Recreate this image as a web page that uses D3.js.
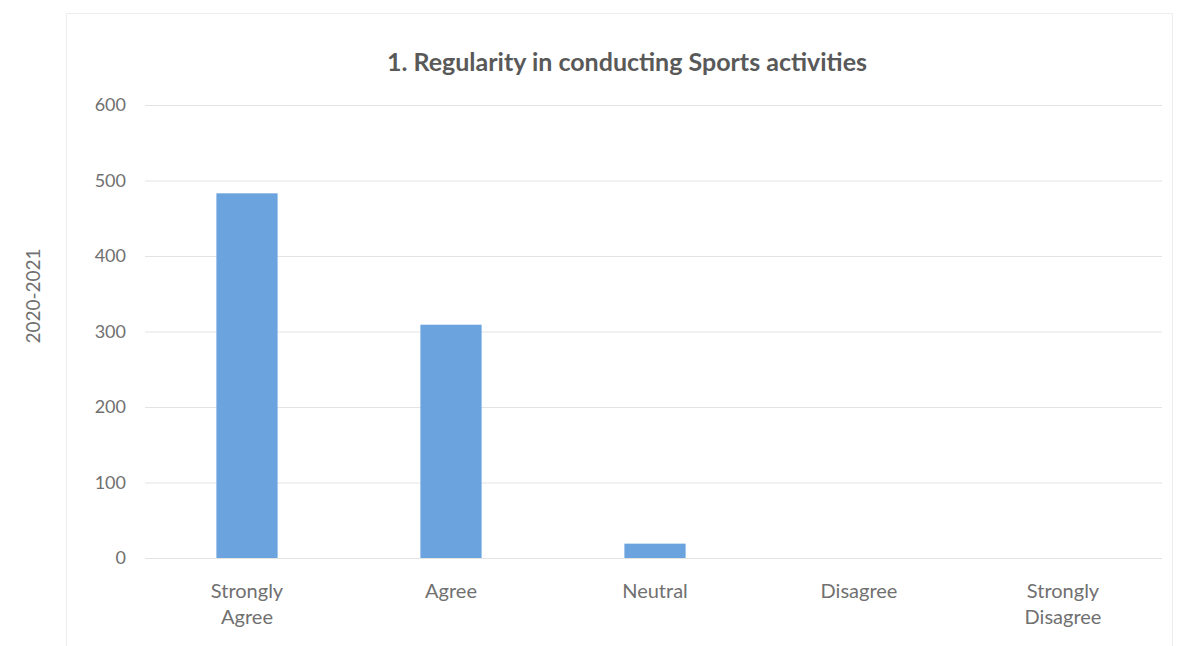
<!DOCTYPE html>
<html>
<head>
<meta charset="utf-8">
<script src="https://cdn.jsdelivr.net/npm/d3@7"></script>
<style>
  html, body { margin: 0; padding: 0; background: #fff; }
  svg { display: block; }
  text { font-family: Lato, "Open Sans", "Liberation Sans", sans-serif; }
</style>
</head>
<body>
<svg id="chart" width="1181" height="646"></svg>
<script>
const categories = [["Strongly", "Agree"], ["Agree"], ["Neutral"], ["Disagree"], ["Strongly", "Disagree"]];
const values = [483, 309, 19, 0, 0];
const yTicks = [0, 100, 200, 300, 400, 500, 600];
const title = "1. Regularity in conducting Sports activities";
const yLabel = "2020-2021";

const svg = d3.select("#chart");
const W = 1181, H = 646;
const margin = { left: 145, right: 16, top: 105, bottom: 88 };

svg.append("rect").attr("width", W).attr("height", H).attr("fill", "#fff");
// chart frame
svg.append("rect")
  .attr("x", 66.5).attr("y", 13.5).attr("width", 1106).attr("height", 660)
  .attr("fill", "none").attr("stroke", "#ededed").attr("stroke-width", 1);

const x = d3.scaleBand()
  .domain(categories.map((d, i) => i))
  .range([margin.left, 1165])
  .paddingInner(0.7)
  .paddingOuter(0.35);

const y = d3.scaleLinear().domain([0, 600]).range([558, 105]);

// gridlines
const grid = svg.append("g")
  .attr("transform", `translate(${margin.left},0)`)
  .call(d3.axisLeft(y).tickValues(yTicks).tickSize(-(1162 - margin.left)).tickFormat(""));
grid.select(".domain").remove();
grid.selectAll(".tick line").attr("stroke", "#e3e3e3").attr("stroke-width", 1.2);

// y tick labels
const yAxis = svg.append("g")
  .attr("transform", `translate(126,0)`)
  .call(d3.axisLeft(y).tickValues(yTicks).tickSize(0).tickPadding(0));
yAxis.select(".domain").remove();
yAxis.selectAll("text")
  .attr("fill", "#707070").attr("font-size", 18);

// bars
svg.append("g").selectAll("rect")
  .data(values)
  .join("rect")
  .attr("x", (d, i) => x(i))
  .attr("width", x.bandwidth())
  .attr("y", d => y(d))
  .attr("height", d => y(0) - y(d))
  .attr("fill", "#6aa3de");

// x labels
const xl = svg.append("g");
categories.forEach((lines, i) => {
  const t = xl.append("text")
    .attr("x", x(i) + x.bandwidth() / 2)
    .attr("y", 598)
    .attr("text-anchor", "middle")
    .attr("fill", "#707070")
    .attr("font-size", 20);
  lines.forEach((ln, j) => {
    t.append("tspan")
      .attr("x", x(i) + x.bandwidth() / 2)
      .attr("dy", j === 0 ? 0 : 26)
      .text(ln);
  });
});

// title
svg.append("text")
  .attr("x", 627).attr("y", 71)
  .attr("text-anchor", "middle")
  .attr("fill", "#595959")
  .attr("font-size", 25)
  .attr("font-weight", 700)
  .text(title);

// y label
svg.append("text")
  .attr("transform", "translate(40,296) rotate(-90)")
  .attr("text-anchor", "middle")
  .attr("fill", "#707070")
  .attr("font-size", 19)
  .text(yLabel);
</script>
</body>
</html>
